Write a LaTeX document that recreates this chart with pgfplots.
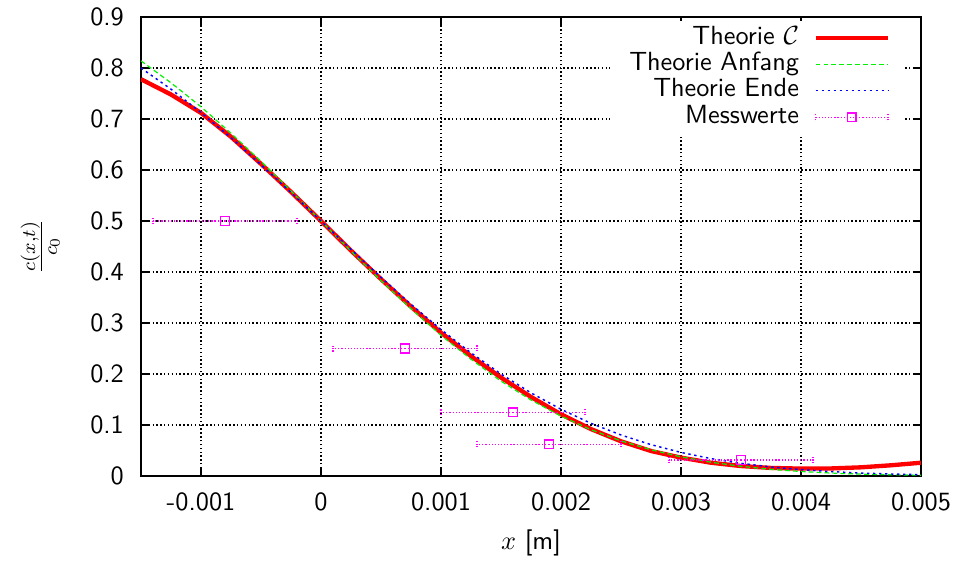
\documentclass[border=0pt]{standalone}
\usepackage{pgfplots}
\pgfplotsset{compat=1.18}
\usepackage{pgfplotstable}
\definecolor{mag}{rgb}{1,0,1}
\definecolor{grn}{rgb}{0,0.95,0}
\definecolor{blu}{rgb}{0,0,1}
\pgfplotstableread{
x y
-0.0015 0.778
-0.00125 0.748
-0.001 0.712
-0.00075 0.665
-0.0005 0.612
-0.00025 0.557
0 0.500
0.00025 0.442
0.0005 0.386
0.00075 0.332
0.001 0.281
0.00125 0.235
0.0015 0.193
0.00175 0.155
0.002 0.121
0.00225 0.092
0.0025 0.068
0.00275 0.049
0.003 0.036
0.00325 0.026
0.0035 0.0195
0.00375 0.0158
0.004 0.0145
0.00425 0.0148
0.0045 0.017
0.00475 0.021
0.005 0.026
}\theoriec
\pgfplotstableread{
x y
-0.0015 0.814
-0.00125 0.771
-0.001 0.724
-0.00075 0.672
-0.0005 0.617
-0.00025 0.559
0 0.500
0.00025 0.441
0.0005 0.383
0.00075 0.328
0.001 0.276
0.00125 0.229
0.0015 0.186
0.00175 0.149
0.002 0.1175
0.00225 0.0907
0.0025 0.0688
0.00275 0.0515
0.003 0.0375
0.00325 0.027
0.0035 0.019
0.00375 0.013
0.004 0.0088
0.00425 0.0058
0.0045 0.0037
0.00475 0.0024
0.005 0.0015
}\anfang
\pgfplotstableread{
x y
-0.0015 0.800
-0.00125 0.7585
-0.001 0.7127
-0.00075 0.6633
-0.0005 0.6103
-0.00025 0.5558
0 0.500
0.00025 0.4442
0.0005 0.3897
0.00075 0.3367
0.001 0.2873
0.00125 0.2415
0.0015 0.200
0.00175 0.163
0.002 0.1308
0.00225 0.1033
0.0025 0.0804
0.00275 0.0615
0.003 0.0462
0.00325 0.0341
0.0035 0.0248
0.00375 0.0177
0.004 0.0125
0.00425 0.0086
0.0045 0.0058
0.00475 0.0039
0.005 0.0026
}\ende
\pgfplotstableread{
x y ex
-0.0008 0.5 0.0006
0.0007 0.25 0.0006
0.0016 0.125 0.0006
0.0019 0.0625 0.0006
0.0035 0.03125 0.0006
}\mess
\begin{document}
\fontsize{10.95}{13.6}\selectfont
\begin{tikzpicture}
\path[use as bounding box] (-58.75pt,-35.42pt) rectangle (341.25pt,198.33pt);
\begin{axis}[
  scale only axis, width=325pt, height=191.25pt,
  at={(0,0)}, anchor=south west,
  xmin=-0.0015, xmax=0.005, ymin=0, ymax=0.9,
  scaled x ticks=false, scaled y ticks=false,
  xtick={-0.001,0,0.001,0.002,0.003,0.004,0.005},
  xticklabels={-0.001,0,0.001,0.002,0.003,0.004,0.005},
  ytick={0,0.1,0.2,0.3,0.4,0.5,0.6,0.7,0.8,0.9},
  yticklabels={0,0.1,0.2,0.3,0.4,0.5,0.6,0.7,0.8,0.9},
  tick label style={font=\sffamily\fontsize{10.95}{13.6}\selectfont},
  xticklabel style={yshift=-3.3pt},
  yticklabel style={xshift=-3.3pt},
  grid=major,
  grid style={black, dash pattern=on 0.6pt off 1pt, line width=0.45pt},
  axis line style={line width=1.1pt},
  major tick style={line width=1.1pt, black},
  major tick length=3.5pt,
  tick align=inside,
  xlabel={$x$ \textsf{[m]}},
  ylabel={$\frac{c(x,t)}{c_0}$},
  every axis x label/.style={at={(axis description cs:0.5,0)}, yshift=-28pt, anchor=center},
  every axis y label/.style={at={(axis description cs:0,0.5)}, xshift=-42pt, rotate=90, anchor=center},
  legend style={at={(axis description cs:0.9795,0.992)}, anchor=north east, fill=white, draw=none,
    font=\sffamily\fontsize{10.95}{13.6}\selectfont, inner xsep=6pt, inner ysep=1.5pt, column sep=4pt,
    nodes={inner ysep=0.3pt, text height=7.8pt, text depth=2.6pt}},
  legend cell align=right,
  legend plot pos=right,
  legend image code/.code={\draw[#1] (0cm,0cm) -- (1.06cm,0cm);},
]
\addplot[red, line width=1.8pt, no marks] table[x=x,y=y] {\theoriec};
\addlegendentry{Theorie $\mathcal{C}$}
\addplot[grn, line width=0.5pt, dash pattern=on 2pt off 1.3pt, no marks] table[x=x,y=y] {\anfang};
\addlegendentry{Theorie Anfang}
\addplot[blu, line width=0.6pt, dash pattern=on 1pt off 1.5pt, no marks] table[x=x,y=y] {\ende};
\addlegendentry{Theorie Ende}
\addplot[mag, only marks, mark=square, mark size=1.8pt, mark options={solid, line width=0.6pt},
  legend image code/.code={
    \draw[mag, line width=0.5pt, dash pattern=on 0.5pt off 0.8pt] (0cm,0cm) -- (1.06cm,0cm);
    \draw[mag, line width=0.5pt, dash pattern=on 0.5pt off 0.5pt] (0cm,-1.3pt) -- (0cm,1.3pt) (1.06cm,-1.3pt) -- (1.06cm,1.3pt);
    \draw[mag, line width=0.6pt] (0.53cm,0cm) ++(-1.8pt,-1.8pt) rectangle ++(3.6pt,3.6pt);
  },
  error bars/.cd, x dir=both, x explicit,
  error bar style={mag, line width=0.5pt, dash pattern=on 0.5pt off 0.8pt},
  error mark options={mag, rotate=90, mark size=1.3pt, line width=0.5pt, dash pattern=on 0.5pt off 0.5pt},
  ] table[x=x,y=y,x error=ex] {\mess};
\addlegendentry{Messwerte}
\end{axis}
\end{tikzpicture}
\end{document}
